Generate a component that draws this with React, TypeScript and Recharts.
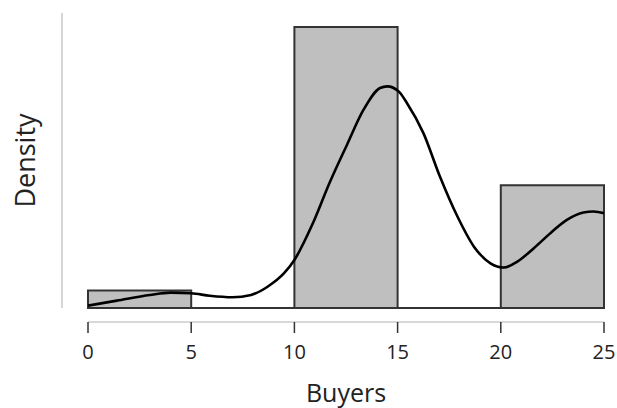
import React from "react";
import {
  ComposedChart,
  Line,
  XAxis,
  YAxis,
  ReferenceArea,
  ReferenceLine,
} from "recharts";

// Histogram bins (Buyers) and their densities
const binStarts = [0, 5, 10, 15, 20];
const binEnds = [5, 10, 15, 20, 25];
const binDensity = [0.0083, 0, 0.1333, 0, 0.0583];

// Kernel density curve
const curveX = [
  0, 1.4, 3.0, 4.0, 5.0, 5.9, 7.0, 7.9, 8.7, 9.5, 10.0, 10.9, 11.7, 12.55, 13.35,
  14.15, 14.5, 15.05, 15.45, 16.25, 17.05, 17.9, 18.7, 19.5, 20.15, 20.8, 21.6,
  22.4, 23.2, 24.0, 24.5, 25.0,
];
const curveDensity = [
  0.0011, 0.0035, 0.0062, 0.0073, 0.007, 0.0058, 0.0051, 0.0062, 0.0101, 0.0165,
  0.0228, 0.0403, 0.0593, 0.0775, 0.0941, 0.1044, 0.1052, 0.1028, 0.0973, 0.083,
  0.0624, 0.0434, 0.0291, 0.0212, 0.0192, 0.022, 0.0284, 0.0355, 0.0418, 0.0453,
  0.0458, 0.045,
];
const xTicks = [0, 5, 10, 15, 20, 25];

const curveData = curveX.map((x, i) => ({ x, density: curveDensity[i] }));

const FONT = "'Open Sans', sans-serif";

export default function App() {
  return (
    <div style={{ position: "absolute", left: 0, top: 0, background: "#fff" }}>
      <ComposedChart
        width={617}
        height={408}
        data={curveData}
        margin={{ top: 13, right: 13, bottom: 0, left: 0 }}
      >
        <XAxis
          xAxisId="d"
          dataKey="x"
          type="number"
          domain={[0, 25]}
          allowDataOverflow
          height={14}
          axisLine={false}
          tickLine={false}
          tick={false}
        />
        <XAxis
          xAxisId="v"
          dataKey="x"
          type="number"
          domain={[0, 25]}
          allowDataOverflow
          ticks={xTicks}
          height={86}
          axisLine={{ stroke: "#cccccc", strokeWidth: 1.5 }}
          tickLine={{ stroke: "#333333", strokeWidth: 1.5 }}
          tickSize={11}
          tickMargin={12}
          tick={{ fill: "#222", fontSize: 20, fontFamily: FONT }}
          label={{
            value: "Buyers",
            position: "insideBottom",
            offset: 6,
            fill: "#222",
            fontSize: 25,
            fontFamily: FONT,
          }}
        />
        <YAxis
          yAxisId="d"
          type="number"
          domain={[0, 0.14]}
          allowDataOverflow
          width={26}
          axisLine={false}
          tickLine={false}
          tick={false}
        />
        <YAxis
          yAxisId="v"
          type="number"
          domain={[0, 0.14]}
          allowDataOverflow
          width={62}
          axisLine={{ stroke: "#c8c8c8", strokeWidth: 1.5 }}
          tickLine={false}
          tick={false}
          label={{
            value: "Density",
            angle: -90,
            position: "insideLeft",
            offset: 25,
            fill: "#222",
            fontSize: 27,
            fontFamily: FONT,
            style: { textAnchor: "middle" },
          }}
        />
        {binStarts.map((s, i) =>
          binDensity[i] > 0 ? (
            <ReferenceArea
              key={"bin" + i}
              xAxisId="d"
              yAxisId="d"
              x1={s}
              x2={binEnds[i]}
              y1={0}
              y2={binDensity[i]}
              fill="#bfbfbf"
              fillOpacity={1}
              stroke="#333"
              strokeWidth={2}
              ifOverflow="visible"
            />
          ) : null
        )}
        <ReferenceLine
          xAxisId="d"
          yAxisId="d"
          y={0}
          stroke="#333"
          strokeWidth={2}
          ifOverflow="visible"
        />
        <Line
          xAxisId="d"
          yAxisId="d"
          dataKey="density"
          type="monotone"
          stroke="#000"
          strokeWidth={2.6}
          dot={false}
          activeDot={false}
          isAnimationActive={false}
        />
      </ComposedChart>
    </div>
  );
}
